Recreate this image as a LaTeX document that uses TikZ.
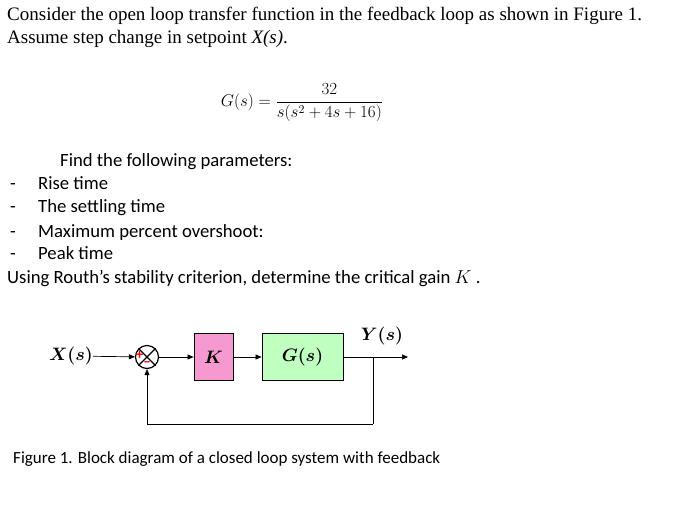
\RequirePackage{fix-cm}
\documentclass[tikz,border=0pt]{standalone}
\usepackage{amsmath}
\usepackage{fontspec}
\setmainfont{Carlito}
\newfontfamily\timesf{Liberation Serif}
\usetikzlibrary{arrows.meta}
\begin{document}
\begin{tikzpicture}[x=1pt,y=-1pt,
  txt/.style={anchor=base west,inner sep=0pt,font=\fontsize{18.7}{22}\selectfont},
  ttxt/.style={anchor=base west,inner sep=0pt,font=\timesf\fontsize{19}{22}\selectfont},
  blk/.style={draw,line width=0.8pt,minimum width=#1,minimum height=47pt,inner sep=0pt},
  arr/.style={-{Triangle[length=6pt,width=5pt]},line width=0.7pt},
  ln/.style={line width=0.7pt}]
\useasboundingbox (0,0) rectangle (678,515);
\node[ttxt] (l1) at (7,20) {Consider the open loop transfer function in the feedback loop as shown in Figure 1.};
\node[ttxt] (l2) at (7,43) {Assume step change in setpoint \textit{X(s)}.};
\node[anchor=center,font=\fontsize{17}{20}\selectfont] (eq) at (302,103) {$G(s)=\dfrac{32}{s(s^2+4s+16)}$};
\node[txt] (f) at (60,166) {Find the following parameters:};
\foreach \y/\t in {189/Rise time,212/The settling  time,237/Maximum percent overshoot:,259/Peak time}{
  \node[txt] at (10,\y) {-};
  \node[txt] at (38,\y) {\t};
}
\node[txt] (r) at (7,283) {Using Routh’s stability criterion, determine the critical gain $K$ .};
\node[txt] (cap) at (13,463) {\fontsize{17}{20}\selectfont Figure 1.  Block diagram of a closed loop system with feedback};
% block diagram
\node[anchor=east,inner sep=0pt,font=\fontsize{18}{20}\selectfont] (x) at (93,356) {$\boldsymbol{X(s)}$};
\node[draw,circle,line width=1.2pt,minimum size=23pt,inner sep=0pt] (sum) at (147,357) {};
\draw[line width=1.2pt] (sum.north west) -- (sum.south east) (sum.north east) -- (sum.south west);
\node[text=red,font=\bfseries\fontsize{15}{15}\selectfont,inner sep=0pt] at (139.5,355) {+};
\node[text=red,font=\bfseries\fontsize{15}{15}\selectfont,inner sep=0pt] at (147,364) {--};
\node[blk=39pt,fill=magenta!40,font=\fontsize{18}{20}\selectfont] (k) at (213.5,357) {$\boldsymbol{K}$};
\node[blk=81pt,fill=green!25,font=\fontsize{18}{20}\selectfont] (g) at (302.5,357) {$\boldsymbol{G(s)}$};
\coordinate (br) at (373,357);
\coordinate (out) at (408,357);
\coordinate (fb) at (373,424);
\node[font=\fontsize{18}{20}\selectfont,inner sep=0pt] (y) at (382,336) {$\boldsymbol{Y(s)}$};
\draw[arr] (x) -- (sum);
\draw[arr] (sum) -- (k);
\draw[arr] (k) -- (g);
\draw[arr] (g) -- (out);
\draw[arr] (fb) -| (sum.south);
\draw[ln] (br) -- (fb);
\end{tikzpicture}
\end{document}
